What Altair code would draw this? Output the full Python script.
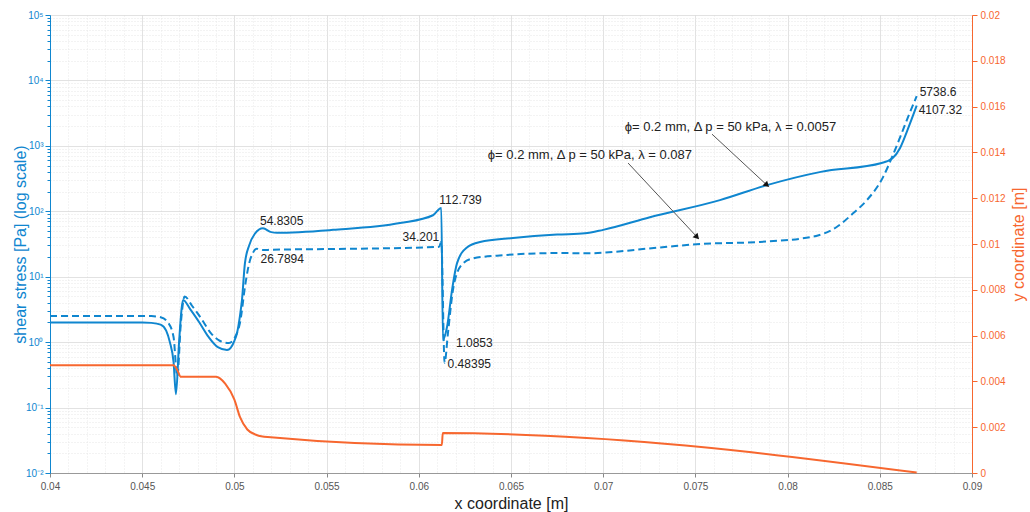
import altair as alt
import pandas as pd

BLUE = "#0f86cf"
ORANGE = "#f7672f"
FONT = "Liberation Sans"

# wall shear stress along the channel, lambda = 0.0057 (solid)
x_solid = [0.0400, 0.0450, 0.0455, 0.0460, 0.0463, 0.0465, 0.0467, 0.04683, 0.0470, 0.04715,
           0.04722, 0.0476, 0.0481, 0.0486, 0.0491, 0.0496, 0.0500, 0.05014, 0.0503, 0.05041,
           0.05057, 0.0508, 0.0511, 0.05155, 0.0520, 0.05231, 0.05535, 0.05898, 0.06077, 0.06122,
           0.06131, 0.06153, 0.0618, 0.06207, 0.06261, 0.06332, 0.06511, 0.0675, 0.06901, 0.0700,
           0.07253, 0.07633, 0.07888, 0.0818, 0.0851, 0.0857, 0.0861, 0.0865, 0.0870]
tau_solid = [2.0, 2.0, 1.97, 1.85, 1.5, 1.0, 0.5, 0.16, 1.0, 3.5,
             4.4, 3.2, 2.0, 1.2, 0.84, 0.76, 1.05, 1.37, 2.5, 4.4,
             16, 30, 45, 54.8305, 48, 47, 52, 66, 87, 112.739,
             1.0853, 1.7, 6.2, 16, 28, 34, 39, 44, 46, 52,
             81, 148, 251, 400, 546, 650, 930, 1740, 4107.32]

# wall shear stress, lambda = 0.087 (dashed)
x_dashed = [0.0400, 0.0455, 0.0460, 0.0464, 0.0467, 0.0469, 0.0471, 0.0473, 0.0477, 0.0482,
            0.0487, 0.0492, 0.0497, 0.0501, 0.0503, 0.0506, 0.0508, 0.0510, 0.0512, 0.0516,
            0.0520, 0.0553, 0.0611, 0.06122, 0.06140, 0.06158, 0.06185, 0.06196, 0.0624, 0.06294,
            0.06424, 0.06766, 0.06901, 0.07308, 0.07525, 0.0785, 0.08138, 0.08268, 0.08355, 0.0843,
            0.08517, 0.08566, 0.0861, 0.08653, 0.0870]
tau_dashed = [2.5, 2.5, 2.4, 2.0, 1.2, 0.3, 2.0, 5.0, 3.6, 2.3,
              1.4, 1.05, 0.97, 1.3, 1.95, 7.9, 16, 23, 26.7894, 25.5,
              25.9, 26.5, 28.6, 34.201, 0.48395, 1.37, 6.2, 8.9, 16, 19,
              21, 23, 22.8, 28, 31.6, 34, 41, 58, 93, 148,
              330, 670, 1350, 2740, 5738.6]

# wall profile (right axis)
x_wall = [0.0400, 0.0467, 0.0469, 0.0471, 0.0490, 0.0495, 0.0500, 0.0503, 0.0507, 0.0512,
          0.0518, 0.06125, 0.0613, 0.0691, 0.0870]
y_wall = [0.0047, 0.0047, 0.0045, 0.0042, 0.0042, 0.0039, 0.0032, 0.00245, 0.0019, 0.00166,
          0.00157, 0.00122, 0.00175, 0.00153, 0.00002]

# annotation arrows: tail -> head
arrow_text = ["ϕ= 0.2 mm, Δ p = 50 kPa, λ = 0.0057", "ϕ= 0.2 mm, Δ p = 50 kPa, λ = 0.087"]
arrow_text_x = [0.0769, 0.06928]
arrow_text_tau = [1940, 723]
arrow_x0 = [0.0759, 0.07135]
arrow_tau0 = [1510, 546]
arrow_x1 = [0.07888, 0.07509]
arrow_tau1 = [251, 40.4]

x_ticks = [round(0.04 + i * 0.001, 3) for i in range(51)]
tau_ticks = [round(k * 10.0 ** e, 6) for e in range(-2, 5) for k in range(1, 10)] + [100000.0]
wall_ticks = [round(i * 0.002, 3) for i in range(11)]

solid_df = pd.DataFrame({"x": x_solid, "tau": tau_solid})
dashed_df = pd.DataFrame({"x": x_dashed, "tau": tau_dashed})
wall_df = pd.DataFrame({"x": x_wall, "yw": y_wall})
arrow_df = pd.DataFrame({"x": arrow_x0, "tau": arrow_tau0, "x1": arrow_x1, "tau1": arrow_tau1})
arrow_txt_df = pd.DataFrame({"x": arrow_text_x, "tau": arrow_text_tau, "label": arrow_text})

X_MAJOR = "abs(datum.value*200 - round(datum.value*200)) < 0.001"
Y_MAJOR = "abs(log(datum.value)/LN10 - round(log(datum.value)/LN10)) < 0.001"
EXP = "toString(round(log(datum.value)/LN10))"
sup = EXP
for a, b in [("-", "⁻"), ("0", "⁰"), ("1", "¹"), ("2", "²"), ("3", "³"), ("4", "⁴"), ("5", "⁵")]:
    sup = f"replace({sup}, '{a}', '{b}')"

PLOT_W, PLOT_H = 922, 458

x_scale = alt.Scale(domain=[0.04, 0.09], nice=False, zero=False)
tau_scale = alt.Scale(type="log", domain=[0.01, 100000], nice=False)
wall_scale = alt.Scale(domain=[0, 0.02], nice=False, zero=True)

x_axis = alt.Axis(
    values=x_ticks, title="x coordinate [m]", titleFontSize=16, titleFontWeight="normal",
    titleColor="#222222", titlePadding=4,
    labelExpr=f"{X_MAJOR} ? format(datum.value, '~g') : ''", labelOverlap=False, labelFlush=False,
    labelFontSize=10, labelColor="#555555", labelPadding=4,
    grid=True,
    gridColor={"condition": {"test": X_MAJOR, "value": "#d9d9d9"}, "value": "#e9e9e9"},
    gridDash={"condition": {"test": X_MAJOR, "value": [1, 0]}, "value": [1, 2]},
    tickOpacity={"condition": {"test": X_MAJOR, "value": 1}, "value": 0},
    tickSize=4, tickColor="#888888", domainColor="#999999",
)
tau_axis = alt.Axis(
    values=tau_ticks, title="shear stress [Pa] (log scale)", titleFontSize=16,
    titleFontWeight="normal", titleColor=BLUE, titleAngle=270, titleAlign="center",
    titleBaseline="middle", titleX=-30, titleY=PLOT_H / 2,
    labelExpr=f"{Y_MAJOR} ? '10' + {sup} : ''", labelOverlap=False, labelFontSize=10,
    labelColor=BLUE, labelPadding=2,
    grid=True,
    gridColor={"condition": {"test": Y_MAJOR, "value": "#d9d9d9"}, "value": "#e6e6e6"},
    gridDash={"condition": {"test": Y_MAJOR, "value": [1, 0]}, "value": [1, 2]},
    tickSize={"condition": {"test": Y_MAJOR, "value": 5}, "value": 3},
    tickColor=BLUE, domainColor=BLUE,
)
wall_axis = alt.Axis(
    values=wall_ticks, orient="right", title="y coordinate [m]", titleFontSize=16,
    titleFontWeight="normal", titleColor=ORANGE, titleAngle=270, titleAlign="center",
    titleBaseline="middle", titleX=46, titleY=PLOT_H / 2,
    format="~g", labelFontSize=10, labelColor=ORANGE, labelPadding=3,
    grid=False, tickSize=5, tickColor=ORANGE, domainColor=ORANGE,
)


def X(field="x"):
    return alt.X(f"{field}:Q", scale=x_scale, axis=x_axis)


def TAU(field="tau"):
    return alt.Y(f"{field}:Q", scale=tau_scale, axis=tau_axis)


solid = alt.Chart(solid_df).mark_line(color=BLUE, strokeWidth=2, interpolate="monotone").encode(
    x=X(), y=TAU())
dashed = alt.Chart(dashed_df).mark_line(color=BLUE, strokeWidth=2, strokeDash=[7, 4],
                                        interpolate="monotone").encode(x=X(), y=TAU())


def value_label(df, value, align, dx, dy):
    row = df[df["tau"] == value]
    return alt.Chart(row.assign(label=[f"{value:g}"])).mark_text(
        align=align, baseline="middle", dx=dx, dy=dy, fontSize=12, font=FONT, color="#222222"
    ).encode(x=X(), y=TAU(), text="label:N")


labels = [
    value_label(solid_df, 54.8305, "left", -3, -7),
    value_label(dashed_df, 26.7894, "left", 4, 10),
    value_label(solid_df, 112.739, "left", -2, -8),
    value_label(dashed_df, 34.201, "right", -2, -5),
    value_label(solid_df, 1.0853, "left", 13, 3),
    value_label(dashed_df, 0.48395, "left", 3, 1),
    value_label(dashed_df, 5738.6, "left", 3, -4),
    value_label(solid_df, 4107.32, "left", 2, 4),
]

arrow_lines = alt.Chart(arrow_df).mark_rule(color="#555555", strokeWidth=1).encode(
    x=X(), y=TAU(), x2="x1:Q", y2="tau1:Q")
arrow_heads = [
    alt.Chart(arrow_df.iloc[[i]]).mark_point(shape="triangle-up", filled=True, color="#111111",
                                             size=45, opacity=1, angle=ang).encode(
        x=X("x1"), y=TAU("tau1"))
    for i, ang in enumerate([133, 137])
]
arrow_labels = alt.Chart(arrow_txt_df).mark_text(
    align="center", baseline="middle", fontSize=13, font=FONT, color="#222222"
).encode(x=X(), y=TAU(), text="label:N")

blue_group = alt.layer(solid, dashed, arrow_lines, *arrow_heads, arrow_labels, *labels)

wall = alt.Chart(wall_df).mark_line(color=ORANGE, strokeWidth=2, interpolate="monotone").encode(
    x=X(), y=alt.Y("yw:Q", scale=wall_scale, axis=wall_axis))

chart = alt.layer(blue_group, wall).resolve_scale(y="independent").properties(
    width=PLOT_W, height=PLOT_H,
    autosize=alt.AutoSizeParams(type="none"),
    padding={"left": 50, "top": 15, "right": 58, "bottom": 39},
    background="white",
).configure_view(stroke=None).configure_axis(labelFont=FONT, titleFont=FONT)

chart.save("out.html", embed_options={"renderer": "svg", "actions": False})
